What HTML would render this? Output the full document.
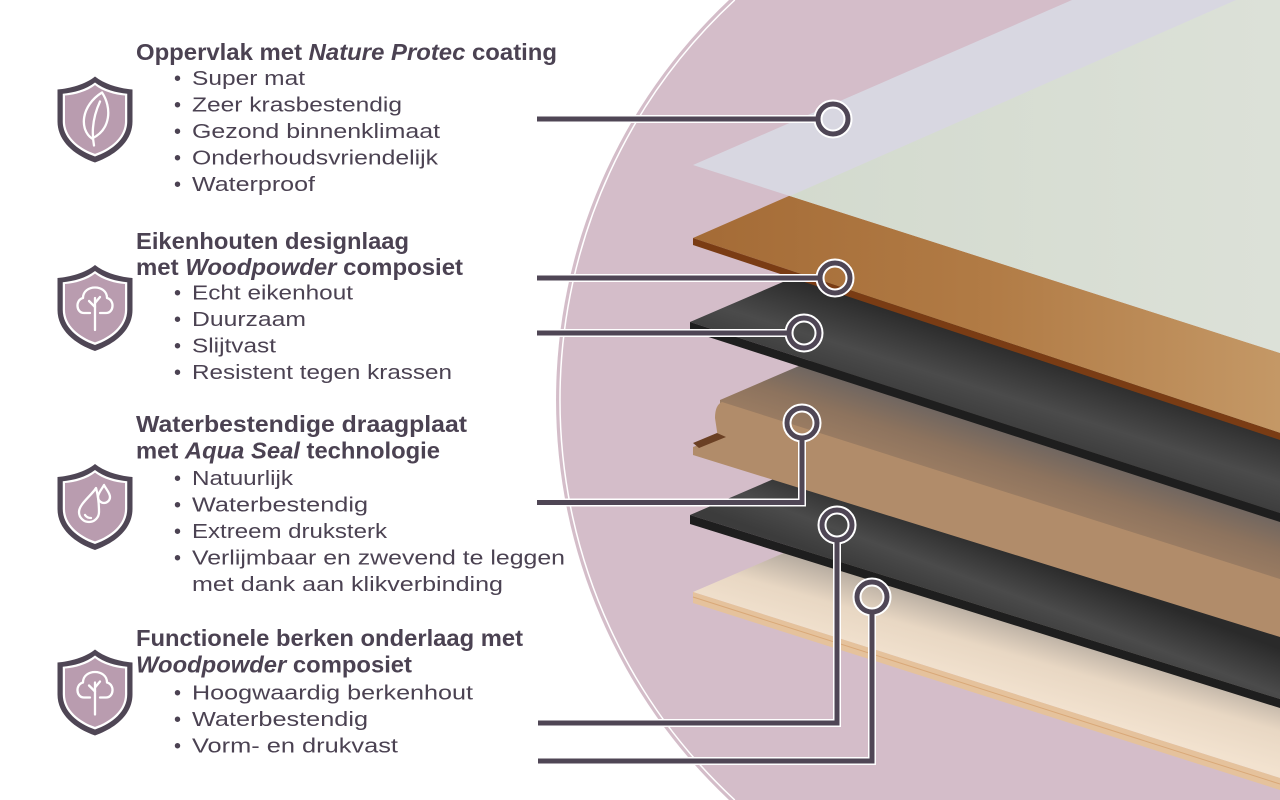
<!DOCTYPE html>
<html><head><meta charset="utf-8"><style>
html,body{margin:0;padding:0;background:#fff;width:1280px;height:800px;overflow:hidden;}
svg{display:block;}
text{font-family:"Liberation Sans",Arial,sans-serif;fill:#4b4252;}
.t{font-weight:bold;font-size:23px;}
.b{font-size:20px;}
</style></head><body>
<svg width="1280" height="800" viewBox="0 0 1280 800" xmlns="http://www.w3.org/2000/svg">
<defs>
<linearGradient id="wood" gradientUnits="userSpaceOnUse" x1="693" y1="0" x2="1280" y2="0">
<stop offset="0" stop-color="#a46b36"/><stop offset="0.5" stop-color="#b17b45"/><stop offset="1" stop-color="#c49866"/></linearGradient>
<linearGradient id="blk1" gradientUnits="userSpaceOnUse" x1="1010" y1="345" x2="985" y2="425">
<stop offset="0" stop-color="#2a2a2a"/><stop offset="0.6" stop-color="#4b4b4b"/><stop offset="1" stop-color="#3c3c3c"/></linearGradient>
<linearGradient id="blk2" gradientUnits="userSpaceOnUse" x1="1010" y1="548" x2="985" y2="615">
<stop offset="0" stop-color="#2a2a2a"/><stop offset="0.6" stop-color="#4b4b4b"/><stop offset="1" stop-color="#3c3c3c"/></linearGradient>
<linearGradient id="mdf" gradientUnits="userSpaceOnUse" x1="1010" y1="432" x2="990" y2="495">
<stop offset="0" stop-color="#6e6560"/><stop offset="0.5" stop-color="#8d735e"/><stop offset="1" stop-color="#9d7e63"/></linearGradient>
<linearGradient id="birch" gradientUnits="userSpaceOnUse" x1="1010" y1="620" x2="990" y2="690">
<stop offset="0" stop-color="#b9aea2"/><stop offset="0.45" stop-color="#e8d7c3"/><stop offset="1" stop-color="#f2e2cf"/></linearGradient>
<linearGradient id="green" gradientUnits="userSpaceOnUse" x1="790" y1="0" x2="1280" y2="0">
<stop offset="0" stop-color="#d3dace"/><stop offset="1" stop-color="#dce1d8"/></linearGradient>
<path id="sh" d="M0,-43 C-10,-35 -25,-31 -37.5,-30 L-37.5,2 C-37.5,22 -20,36 0,43 C20,36 37.5,22 37.5,2 L37.5,-30 C25,-31 10,-35 0,-43 Z"/>
</defs>

<!-- big pink circle (clipped to frame) -->
<path d="M729,0 A549,549 0 0 0 729,800 L1280,800 L1280,0 Z" fill="#d4bdc9"/>
<path d="M734.8,0 A545,545 0 0 0 734.8,800" fill="none" stroke="#fff" stroke-width="1.5"/>

<!-- birch -->
<polygon points="693,592 1280,340 1280,778" fill="url(#birch)"/>
<polygon points="693,592 1280,778 1280,790 693,603" fill="#e5c29c"/>
<polyline points="693,597 1280,784" fill="none" stroke="#d9a878" stroke-width="1"/>
<!-- black2 -->
<polygon points="690,515 1280,261 1280,699" fill="url(#blk2)"/>
<polygon points="690,515 1280,699 1280,708 690,524" fill="#1e1e1e"/>
<!-- MDF -->
<polygon points="720,400 1280,159 1280,580 720,405" fill="url(#mdf)"/>
<path d="M722,402 L1280,579 L1280,637 L693,455 L693,447 L718,438 L715,418 Q715,405 722,402 Z" fill="#b18c6a"/>
<polygon points="693,443 717,433 726,437 699,448" fill="#6b4024"/>
<!-- black1 -->
<polygon points="690,322 1280,68 1280,513" fill="url(#blk1)"/>
<polygon points="690,322 1280,513 1280,522 690,331" fill="#1e1e1e"/>
<!-- wood -->
<polygon points="693,238 1236,0 1280,0 1280,433" fill="url(#wood)"/>
<polygon points="693,238 1280,433 1280,440 693,245" fill="#7a3c14"/>
<!-- coating -->
<polygon points="693,165 1072,0 1280,0 1280,353" fill="#d8d7e1"/>
<polygon points="790,196 1236,0 1280,0 1280,353" fill="url(#green)"/>

<!-- connectors -->
<g fill="none" stroke="#fff" stroke-width="8">
<path d="M537,119 H818"/><path d="M537,278 H820"/><path d="M537,333 H789"/>
<path d="M537,502.5 H802 V438"/><path d="M538,723 H837 V540"/><path d="M538,761 H872 V612"/>
<circle cx="833" cy="119" r="15" stroke-width="9"/><circle cx="835" cy="278" r="15" stroke-width="9"/>
<circle cx="804" cy="333" r="15" stroke-width="9"/><circle cx="802" cy="423" r="15" stroke-width="9"/>
<circle cx="837" cy="525" r="15" stroke-width="9"/><circle cx="872" cy="597" r="15" stroke-width="9"/>
</g>
<g fill="none" stroke="#4f4655" stroke-width="5">
<path d="M537,119 H818"/><path d="M537,278 H820"/><path d="M537,333 H789"/>
<path d="M537,502.5 H802 V438"/><path d="M538,723 H837 V540"/><path d="M538,761 H872 V612"/>
<circle cx="833" cy="119" r="15"/><circle cx="835" cy="278" r="15"/>
<circle cx="804" cy="333" r="15"/><circle cx="802" cy="423" r="15"/>
<circle cx="837" cy="525" r="15"/><circle cx="872" cy="597" r="15"/>
</g>

<!-- shields -->
<g transform="translate(95,119.5)">
<use href="#sh" fill="#4f4655"/><use href="#sh" fill="#fff" transform="scale(0.86)"/><use href="#sh" fill="#b99caf" transform="scale(0.8)"/>
<g fill="none" stroke="#fff" stroke-width="2.3" stroke-linecap="round" stroke-linejoin="round">
<path d="M-3,19 C-16,10 -14,-14 7,-27 C17,-12 16,10 -3,19 Z"/>
<path d="M-1,26 C-4,10 -1,-5 5,-18"/>
</g></g>
<g transform="translate(95,308)">
<use href="#sh" fill="#4f4655"/><use href="#sh" fill="#fff" transform="scale(0.86)"/><use href="#sh" fill="#b99caf" transform="scale(0.8)"/>
<g fill="none" stroke="#fff" stroke-width="2.3" stroke-linecap="round" stroke-linejoin="round">
<path d="M-5,5 L-11,5 C-19,5 -20,-8 -12,-10 C-12,-24 12,-24 12,-10 C20,-8 19,5 11,5 L5,5"/>
<path d="M0,-10 V22"/><path d="M0,-1 L-6,-7"/><path d="M0,-5 L5,-11"/>
</g></g>
<g transform="translate(95,507)">
<use href="#sh" fill="#4f4655"/><use href="#sh" fill="#fff" transform="scale(0.86)"/><use href="#sh" fill="#b99caf" transform="scale(0.8)"/>
<g fill="none" stroke="#fff" stroke-width="2.3" stroke-linecap="round" stroke-linejoin="round">
<path d="M1,-19 C-3,-12 -16,-3 -16,5 A10,10 0 0 0 4,5 C4,-3 3,-12 1,-19 Z"/>
<path d="M9,-22 C7,-18 3,-14 3,-10 A6,6 0 0 0 15,-10 C15,-14 11,-18 9,-22 Z"/>
<path d="M-10,8 Q-8,11 -4,11"/>
</g></g>
<g transform="translate(95,692.5)">
<use href="#sh" fill="#4f4655"/><use href="#sh" fill="#fff" transform="scale(0.86)"/><use href="#sh" fill="#b99caf" transform="scale(0.8)"/>
<g fill="none" stroke="#fff" stroke-width="2.3" stroke-linecap="round" stroke-linejoin="round">
<path d="M-5,5 L-11,5 C-19,5 -20,-8 -12,-10 C-12,-24 12,-24 12,-10 C20,-8 19,5 11,5 L5,5"/>
<path d="M0,-10 V22"/><path d="M0,-1 L-6,-7"/><path d="M0,-5 L5,-11"/>
</g></g>

<!-- section 1 -->
<text class="t" x="136" y="60" textLength="421" lengthAdjust="spacingAndGlyphs">Oppervlak met <tspan font-style="italic">Nature Protec</tspan> coating</text>
<text class="b" x="174" y="85">•</text><text class="b" x="192" y="85" textLength="113" lengthAdjust="spacingAndGlyphs">Super mat</text>
<text class="b" x="174" y="111.5">•</text><text class="b" x="192" y="111.5" textLength="210" lengthAdjust="spacingAndGlyphs">Zeer krasbestendig</text>
<text class="b" x="174" y="138">•</text><text class="b" x="192" y="138" textLength="248" lengthAdjust="spacingAndGlyphs">Gezond binnenklimaat</text>
<text class="b" x="174" y="164.5">•</text><text class="b" x="192" y="164.5" textLength="246" lengthAdjust="spacingAndGlyphs">Onderhoudsvriendelijk</text>
<text class="b" x="174" y="191">•</text><text class="b" x="192" y="191" textLength="123" lengthAdjust="spacingAndGlyphs">Waterproof</text>

<!-- section 2 -->
<text class="t" x="136" y="249" textLength="273" lengthAdjust="spacingAndGlyphs">Eikenhouten designlaag</text>
<text class="t" x="136" y="275" textLength="327" lengthAdjust="spacingAndGlyphs">met <tspan font-style="italic">Woodpowder</tspan> composiet</text>
<text class="b" x="174" y="299.5">•</text><text class="b" x="192" y="299.5" textLength="161" lengthAdjust="spacingAndGlyphs">Echt eikenhout</text>
<text class="b" x="174" y="326">•</text><text class="b" x="192" y="326" textLength="114" lengthAdjust="spacingAndGlyphs">Duurzaam</text>
<text class="b" x="174" y="352.5">•</text><text class="b" x="192" y="352.5" textLength="84" lengthAdjust="spacingAndGlyphs">Slijtvast</text>
<text class="b" x="174" y="379">•</text><text class="b" x="192" y="379" textLength="260" lengthAdjust="spacingAndGlyphs">Resistent tegen krassen</text>

<!-- section 3 -->
<text class="t" x="136" y="432" textLength="331" lengthAdjust="spacingAndGlyphs">Waterbestendige draagplaat</text>
<text class="t" x="136" y="458.5" textLength="304" lengthAdjust="spacingAndGlyphs">met <tspan font-style="italic">Aqua Seal</tspan> technologie</text>
<text class="b" x="174" y="485">•</text><text class="b" x="192" y="485" textLength="101" lengthAdjust="spacingAndGlyphs">Natuurlijk</text>
<text class="b" x="174" y="511.5">•</text><text class="b" x="192" y="511.5" textLength="176" lengthAdjust="spacingAndGlyphs">Waterbestendig</text>
<text class="b" x="174" y="538">•</text><text class="b" x="192" y="538" textLength="195" lengthAdjust="spacingAndGlyphs">Extreem druksterk</text>
<text class="b" x="174" y="564.5">•</text><text class="b" x="192" y="564.5" textLength="373" lengthAdjust="spacingAndGlyphs">Verlijmbaar en zwevend te leggen</text>
<text class="b" x="192" y="591" textLength="311" lengthAdjust="spacingAndGlyphs">met dank aan klikverbinding</text>

<!-- section 4 -->
<text class="t" x="136" y="646" textLength="387" lengthAdjust="spacingAndGlyphs">Functionele berken onderlaag met</text>
<text class="t" x="136" y="672.5" textLength="276" lengthAdjust="spacingAndGlyphs"><tspan font-style="italic">Woodpowder</tspan> composiet</text>
<text class="b" x="174" y="699.5">•</text><text class="b" x="192" y="699.5" textLength="281" lengthAdjust="spacingAndGlyphs">Hoogwaardig berkenhout</text>
<text class="b" x="174" y="726">•</text><text class="b" x="192" y="726" textLength="176" lengthAdjust="spacingAndGlyphs">Waterbestendig</text>
<text class="b" x="174" y="752.5">•</text><text class="b" x="192" y="752.5" textLength="206" lengthAdjust="spacingAndGlyphs">Vorm- en drukvast</text>
</svg>
</body></html>
